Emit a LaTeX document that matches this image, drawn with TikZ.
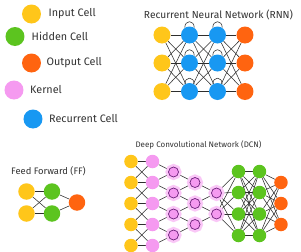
\documentclass[tikz,border=0pt]{standalone}
\usepackage{fontspec}
\setmainfont{Fira Sans}
\definecolor{cyellow}{HTML}{FFC61A}
\definecolor{cgreen}{HTML}{5CC41F}
\definecolor{corange}{HTML}{FF6410}
\definecolor{cpink}{HTML}{F59AF0}
\definecolor{cblue}{HTML}{1898F2}
\definecolor{cpurple}{HTML}{6B1F7A}
\definecolor{ctext}{HTML}{333333}
\definecolor{cline}{HTML}{2E2E2E}
\pgfdeclarelayer{bg}
\pgfdeclarelayer{back}
\pgfsetlayers{back,bg,main}
\tikzset{
  cell/.style={circle, inner sep=0pt, minimum size=#1},
  lg/.style={cell=19pt},
  rn/.style={cell=17pt},
  dc/.style={cell=13.5pt},
  ff/.style={cell=16.5pt},
  kern/.style={circle, inner sep=0pt, minimum size=10pt, fill=cpink, draw=cpurple, line width=0.7pt,
    preaction={draw=cpink!55, fill=cpink!55, line width=6pt}},
  lt/.style={anchor=west, text=ctext, font=\fontsize{10.8}{13}\selectfont, inner sep=0pt},
  ttl/.style={text=ctext, inner sep=0pt},
  con/.style={draw=cline, line width=0.55pt},
}
\begin{document}
\begin{tikzpicture}[x=1pt,y=-1pt]
\begin{pgfonlayer}{back}
\fill[white] (0,0) rectangle (301,252);
\end{pgfonlayer}
\useasboundingbox (0,0) rectangle (301,252);

% legend
\node[lg,fill=cyellow] (li) at (31.5,14) {};
\node[lt] (lit) at (48.5,14) {Input Cell};
\node[lg,fill=cgreen] (lh) at (15,36.5) {};
\node[lt] (lht) at (31.5,36.5) {Hidden Cell};
\node[lg,fill=corange] (lo) at (31.5,63) {};
\node[lt] (lot) at (46.5,63) {Output Cell};
\node[lg,fill=cpink] (lk) at (14,90) {};
\node[lt] (lkt) at (30,90) {Kernel};
\node[lg,fill=cblue] (lr) at (33,119) {};
\node[lt] (lrt) at (49,119) {Recurrent Cell};

% RNN
\node[ttl,font=\fontsize{10.2}{12}\selectfont] (rt) at (218.5,15) {Recurrent Neural Network (RNN)};
\foreach \r/\y in {1/35,2/63,3/91.5}{
  \node[rn,fill=cyellow] (ri\r) at (162,\y) {};
  \node[rn,fill=cblue] (ra\r) at (189.5,\y) {};
  \node[rn,fill=cblue] (rb\r) at (217.5,\y) {};
  \node[rn,fill=corange] (ro\r) at (245,\y) {};
}
\begin{pgfonlayer}{bg}
\foreach \a in {1,2,3}{\foreach \b in {1,2,3}{
  \draw[con] (ri\a) -- (ra\b);
  \draw[con] (ra\a) -- (rb\b);
  \draw[con] (rb\a) -- (ro\b);
}}
\foreach \n in {ra1,ra2,ra3,rb1,rb2,rb3}{
  \draw[con] (\n.123) .. controls +(0,-8) and +(0,-8) .. (\n.57);
}
\end{pgfonlayer}

% FF
\node[ttl,font=\fontsize{9.4}{11}\selectfont] (ft) at (48.5,171.5) {Feed Forward (FF)};
\node[ff,fill=cyellow] (fi1) at (26.5,191.5) {};
\node[ff,fill=cyellow] (fi2) at (26.5,213.5) {};
\node[ff,fill=cgreen] (fh1) at (52,191.5) {};
\node[ff,fill=cgreen] (fh2) at (52,213.5) {};
\node[ff,fill=corange] (fo) at (77,202.5) {};
\begin{pgfonlayer}{bg}
\foreach \a in {1,2}{\foreach \b in {1,2}{\draw[con] (fi\a) -- (fh\b);}
  \draw[con] (fh\a) -- (fo);}
\end{pgfonlayer}

% DCN
\node[ttl,font=\fontsize{8}{10}\selectfont] (dt) at (198.5,145) {Deep Convolutional Network (DCN)};
\foreach \r/\y in {1/161.5,2/182.5,3/203.5,4/224.5,5/245.5}{
  \node[dc,fill=cyellow] (dy\r) at (131,\y) {};
  \node[dc,fill=cpink] (dp\r) at (152.5,\y) {};
}
\foreach \r/\y in {1/172,2/193,3/214,4/235}{
  \node[kern] (ka\r) at (173.5,\y) {};
}
\foreach \r/\y in {1/182.5,2/203.5,3/224.5}{
  \node[kern] (kb\r) at (195,\y) {};
  \node[dc,fill=corange] (do\r) at (281,\y) {};
}
\foreach \r/\y in {1/193,2/214}{
  \node[kern] (kc\r) at (216.5,\y) {};
}
\foreach \r/\y in {1/171.5,2/192.5,3/214,4/235.5}{
  \node[dc,fill=cgreen] (dg\r) at (238.5,\y) {};
  \node[dc,fill=cgreen] (dh\r) at (259.5,\y) {};
}
\begin{pgfonlayer}{bg}
\foreach \a in {1,...,5}{\draw[con] (dy\a) -- (dp\a);}
\foreach \a/\b in {1/2,2/3,3/4,4/5}{
  \draw[con] (dy\a) -- (dp\b);
  \draw[con] (dy\b) -- (dp\a);
}
\foreach \a/\b in {1/1,2/1,2/2,3/2,3/3,4/3,4/4,5/4}{\draw[con] (dp\a) -- (ka\b);}
\foreach \a/\b in {1/1,2/1,2/2,3/2,3/3,4/3}{\draw[con] (ka\a) -- (kb\b);}
\foreach \a/\b in {1/1,2/1,2/2,3/2}{\draw[con] (kb\a) -- (kc\b);}
\foreach \a in {1,2}{\foreach \b in {1,...,4}{\draw[con] (kc\a) -- (dg\b);}}
\foreach \a in {1,...,4}{\foreach \b in {1,...,4}{\draw[con] (dg\a) -- (dh\b);}}
\foreach \a in {1,...,4}{\foreach \b in {1,2,3}{\draw[con] (dh\a) -- (do\b);}}
\end{pgfonlayer}
\end{tikzpicture}
\end{document}
